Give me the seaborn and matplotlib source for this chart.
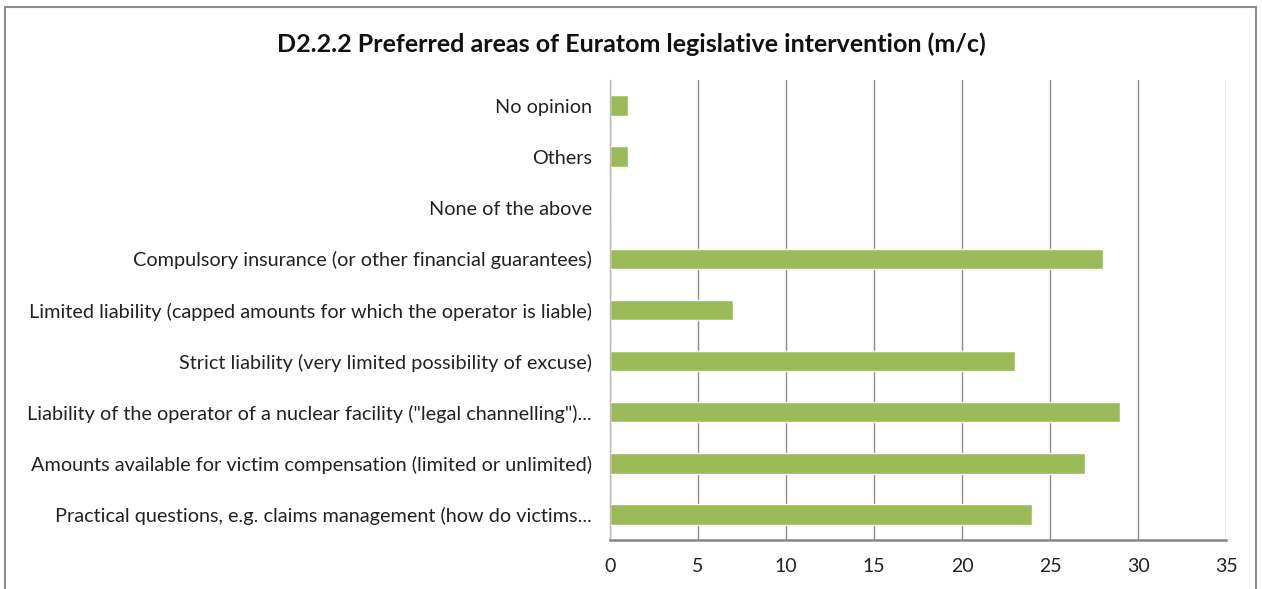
import matplotlib.pyplot as plt
import seaborn as sns
import pandas as pd
from matplotlib.patches import Rectangle

categories = [
    'No opinion',
    'Others',
    'None of the above',
    'Compulsory insurance (or other financial guarantees)',
    'Limited liability (capped amounts for which the operator is liable)',
    'Strict liability (very limited possibility of excuse)',
    'Liability of the operator of a nuclear facility ("legal channelling")...',
    'Amounts available for victim compensation (limited or unlimited)',
    'Practical questions, e.g. claims management (how do victims...',
]
values = [1, 1, 0, 28, 7, 23, 29, 27, 24]
x_ticks = [0, 5, 10, 15, 20, 25, 30, 35]

df = pd.DataFrame({'category': categories, 'value': values})

sns.set_style('white')
plt.rcParams['font.family'] = ['Lato', 'DejaVu Sans']

fig = plt.figure(figsize=(12.62, 5.89), dpi=100)
ax = fig.add_axes([0.4834, 0.0832, 0.4881, 0.7810])

sns.barplot(data=df, x='value', y='category', color='#9BBB59', saturation=1,
            width=0.4, ax=ax, orient='h')

ax.set_xlim(0, 35)
ax.set_xticks(x_ticks)
ax.set_xticklabels([str(t) for t in x_ticks], fontsize=14, color='#222222')
ax.tick_params(axis='x', length=5, width=1.2, color='#868686', pad=8)
ax.tick_params(axis='y', length=0, pad=13, labelsize=14.3, labelcolor='#222222')
ax.set_xlabel('')
ax.set_ylabel('')
ax.xaxis.grid(True, color='#8c8c8c', linewidth=1)
ax.set_axisbelow(True)

for side in ['top', 'right']:
    ax.spines[side].set_visible(False)
ax.spines['bottom'].set_color('#868686')
ax.spines['bottom'].set_linewidth(1.8)
ax.spines['left'].set_color('#bcbcbc')
ax.spines['left'].set_linewidth(1)

fig.text(0.5, 0.925, 'D2.2.2 Preferred areas of Euratom legislative intervention (m/c)',
         ha='center', va='center', fontsize=18, fontweight='bold', color='#111111')

fig.patches.append(Rectangle((5 / 1262, -0.01), 1251 / 1262, 1 - 7 / 589 + 0.01,
                             transform=fig.transFigure, fill=False,
                             edgecolor='#8c8c8c', linewidth=1.5))

fig.savefig('out.png', dpi=100)
